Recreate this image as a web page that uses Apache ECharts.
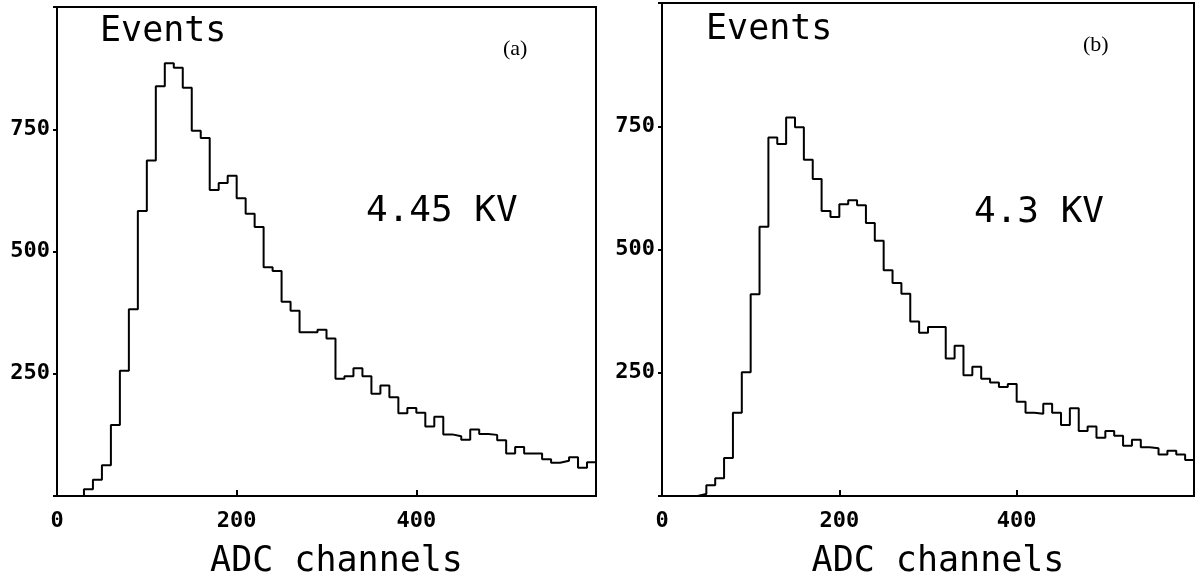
<!DOCTYPE html>
<html lang="en">

<head>
    <meta charset="utf-8">
    <title>ADC spectra</title>
    <script type="text/javascript" src="https://cdn.jsdelivr.net/npm/echarts@6/dist/echarts.min.js"></script>
    <style>
        html, body { margin: 0; padding: 0; background: #fff; }
        #Chart { width: 1197px; height: 584px; }
    </style>
</head>

<body>
    <div id="Chart"></div>
    <script type="text/javascript">
        // left edge of each 10-channel bin
        const binStarts = [
            0, 10, 20, 30, 40, 50, 60, 70, 80, 90,
            100, 110, 120, 130, 140, 150, 160, 170, 180, 190,
            200, 210, 220, 230, 240, 250, 260, 270, 280, 290,
            300, 310, 320, 330, 340, 350, 360, 370, 380, 390,
            400, 410, 420, 430, 440, 450, 460, 470, 480, 490,
            500, 510, 520, 530, 540, 550, 560, 570, 580, 590
        ];
        const binEnd = 600;

        // (a) 4.45 KV
        const countsA = [
            0, 0, 0, 14, 33, 63, 145, 256, 382, 583,
            686, 838, 885, 876, 835, 747, 732, 626, 640, 655,
            609, 577, 550, 468, 460, 397, 379, 335, 335, 340,
            322, 240, 245, 261, 245, 209, 226, 202, 169, 180,
            170, 142, 162, 126, 122, 115, 136, 127, 125, 114,
            87, 100, 87, 87, 75, 68, 72, 79, 58, 69
        ];

        // (b) 4.3 KV
        const countsB = [
            0, 0, 0, 0, 4, 22, 36, 77, 169, 251,
            409, 546, 727, 714, 768, 748, 682, 643, 578, 566,
            592, 600, 590, 554, 518, 458, 432, 410, 354, 331,
            343, 343, 279, 305, 245, 262, 238, 230, 221, 227,
            191, 169, 167, 187, 169, 144, 178, 132, 141, 118,
            132, 122, 102, 114, 99, 97, 84, 92, 84, 73
        ];

        const xTicks = [0, 200, 400];
        const yTicks = [250, 500, 750];

        const monoFont = '"DejaVu Sans Mono", monospace';

        function stepData(counts) {
            let pts = binStarts.map(function (x, i) { return [x, counts[i]]; });
            pts.push([binEnd, counts[counts.length - 1]]);
            return pts;
        }

        function makeX(gridIndex) {
            return {
                type: 'value', gridIndex: gridIndex, min: 0, max: 600, interval: 200,
                axisLine: { show: false },
                axisTick: { show: true, inside: true, length: 6, lineStyle: { color: '#000', width: 2 } },
                splitLine: { show: false },
                axisLabel: {
                    margin: 14, color: '#000', fontFamily: monoFont, fontSize: 22, fontWeight: 'bold',
                    formatter: function (v) { return xTicks.indexOf(v) >= 0 ? String(v) : ''; }
                },
                name: 'ADC channels', nameLocation: 'middle', nameGap: 48,
                nameTextStyle: { color: '#000', fontFamily: monoFont, fontSize: 35, padding: [0, 0, 0, 20] }
            };
        }

        function makeY(gridIndex) {
            return {
                type: 'value', gridIndex: gridIndex, min: 0, max: 1000, interval: 250,
                axisLine: { show: false },
                axisTick: { show: true, length: 4, lineStyle: { color: '#000', width: 2 } },
                splitLine: { show: false },
                axisLabel: {
                    margin: 7, color: '#000', fontFamily: monoFont, fontSize: 22, fontWeight: 'bold',
                    formatter: function (v) { return yTicks.indexOf(v) >= 0 ? String(v) : ''; }
                }
            };
        }

        function label(text, left, top, size, family) {
            return {
                type: 'text', left: left, top: top,
                style: { text: text, fill: '#000', font: size + 'px ' + family }
            };
        }

        const chart = echarts.init(document.getElementById('Chart'));

        const option = {
            animation: false,
            backgroundColor: '#fff',
            grid: [
                { left: 57, top: 7, width: 539, height: 496, show: true, borderColor: '#000', borderWidth: 2 },
                { left: 662, top: 3, width: 541, height: 500, show: true, borderColor: '#000', borderWidth: 2 }
            ],
            xAxis: [makeX(0), makeX(1)],
            yAxis: [makeY(0), makeY(1)],
            series: [
                {
                    type: 'line', xAxisIndex: 0, yAxisIndex: 0, step: 'end', symbol: 'none',
                    lineStyle: { color: '#000', width: 2 }, data: stepData(countsA)
                },
                {
                    type: 'line', xAxisIndex: 1, yAxisIndex: 1, step: 'end', symbol: 'none',
                    lineStyle: { color: '#000', width: 2 }, data: stepData(countsB)
                }
            ],
            graphic: [
                label('Events', 100, 14, 35, monoFont),
                label('(a)', 503, 38, 22, '"Liberation Serif", serif'),
                label('4.45 KV', 366, 194, 36, monoFont),
                label('Events', 706, 12, 35, monoFont),
                label('(b)', 1083, 34, 22, '"Liberation Serif", serif'),
                label('4.3 KV', 974, 195, 36, monoFont)
            ]
        };

        chart.setOption(option);
    </script>
</body>

</html>
